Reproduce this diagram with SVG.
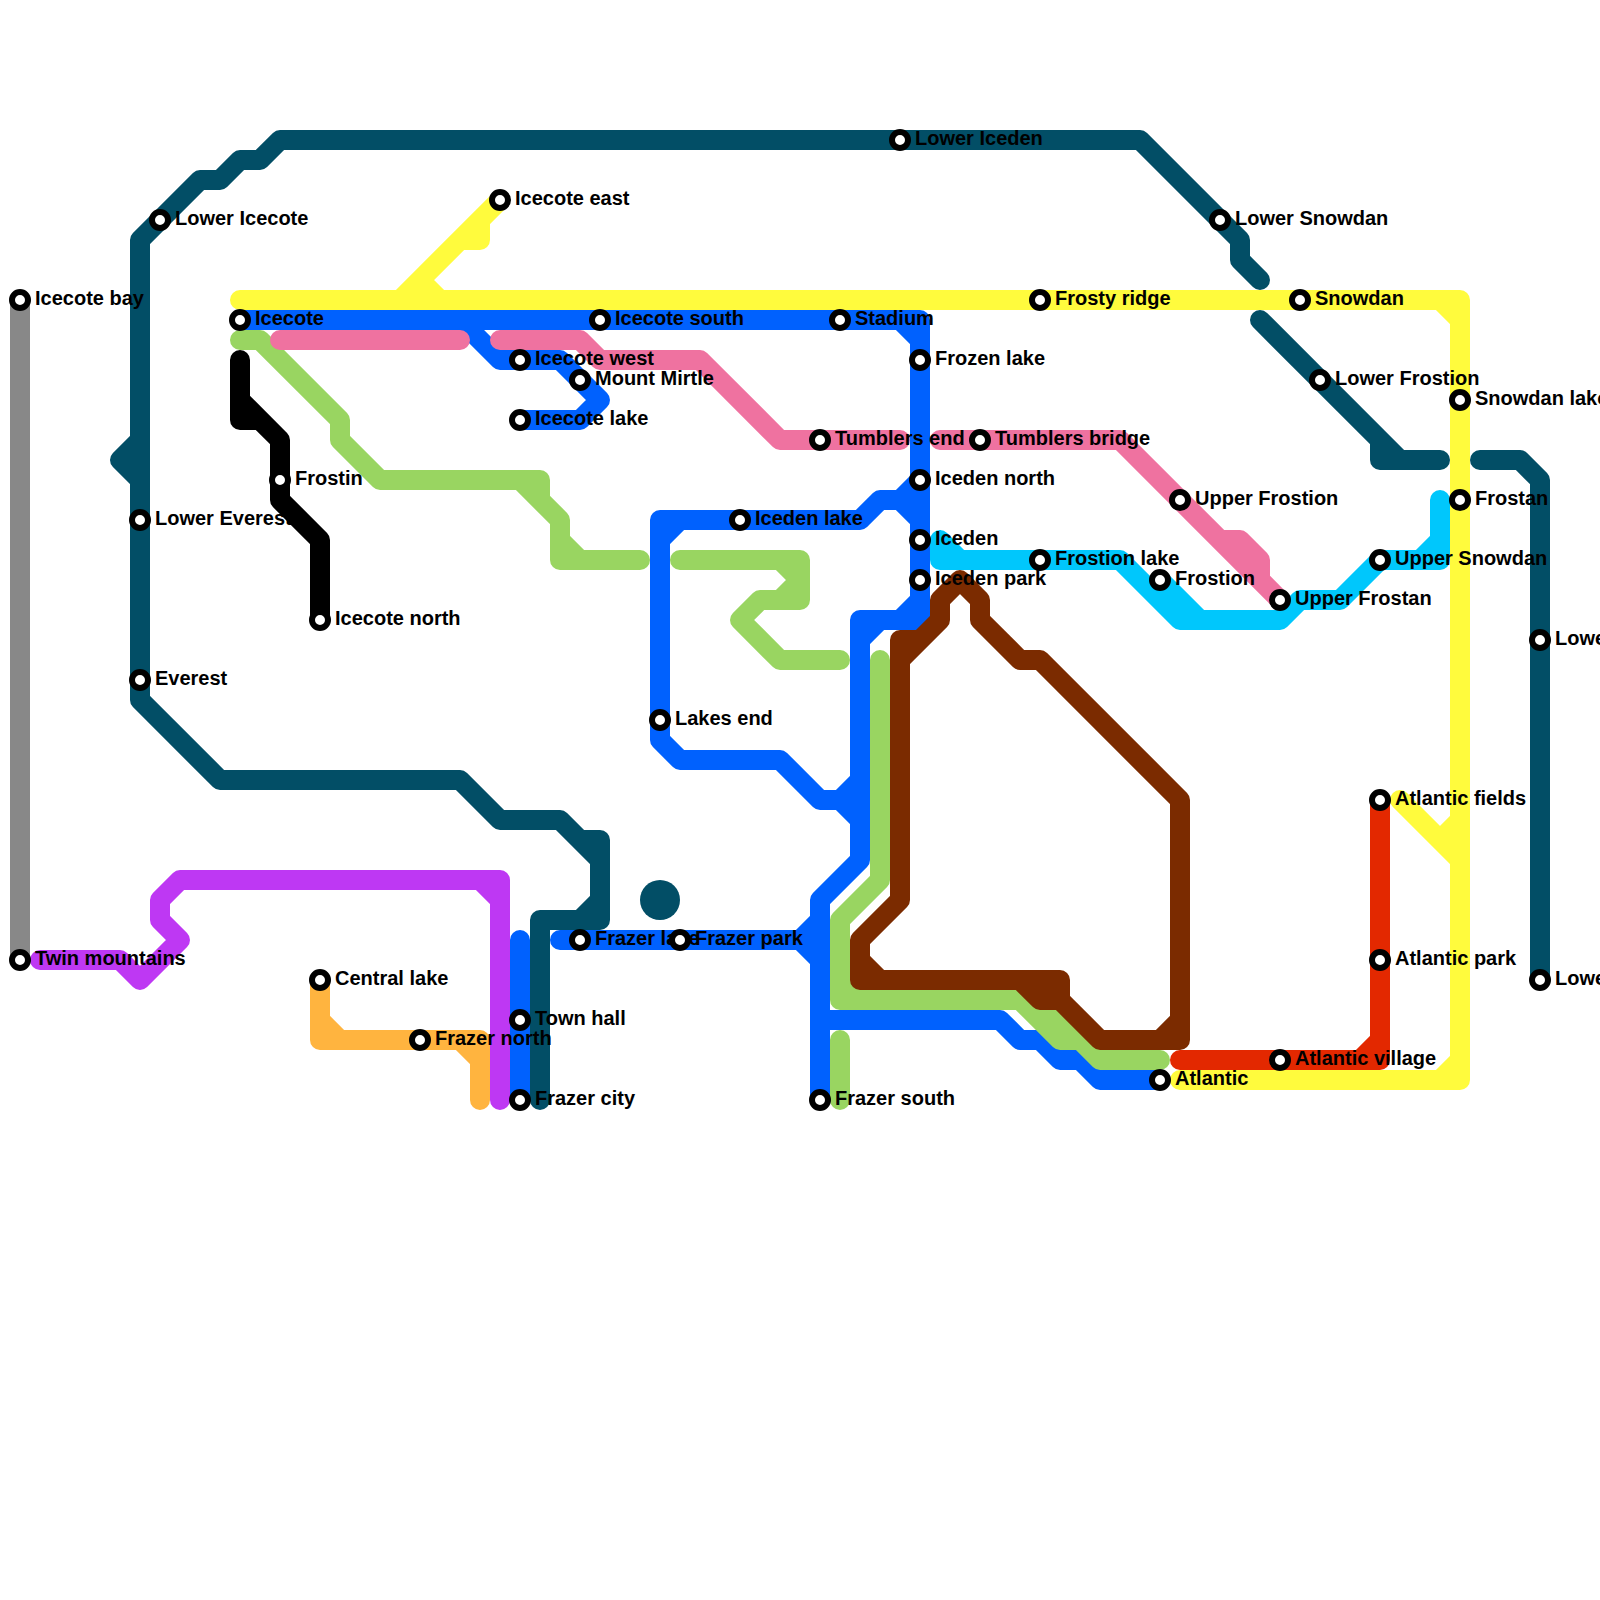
<svg xmlns="http://www.w3.org/2000/svg" width="1600" height="1600" viewBox="0 0 1600 1600">
<style>
.l{fill:none;stroke-width:20;stroke-linecap:round;stroke-linejoin:round}
.teal{stroke:#024e66}.blue{stroke:#0061fe}.green{stroke:#99d561}.pink{stroke:#ef72a0}.yellow{stroke:#fffb3d}.brown{stroke:#7b2b00}.red{stroke:#e32800}.purple{stroke:#be38f3}.orange{stroke:#ffb43f}.gray{stroke:#888}.cyan{stroke:#00c7fc}.black{stroke:#000}
.s circle{fill:#fff;stroke:#000;stroke-width:6}
.s text{font-family:"Liberation Sans",Arial,sans-serif;font-size:20px;font-weight:bold;fill:#000}
</style>
<g id="connectors">
<path class="l gray" d="M20 300V960"/>
<path class="l yellow" d="M240 300H1440L1460 320V1060L1440 1080H1180M1440 300H1460V320M1460 1060V1080H1440M500 200L400 300M480 220V240H460L420 280L440 300M1400 800L1460 860M1440 840L1460 820"/>
<path class="l teal" d="M540 1100V920H580L600 900V860L560 820H500L460 780H220L140 700V240L200 180H220L240 160H260L280 140H1140L1240 240V260L1260 280M580 840H600V920H580M140 440L120 460L140 480M1260 320L1400 460H1440M1380 440V460H1400M1480 460H1520L1540 480V980"/>
<circle cx="660" cy="900" r="20" fill="#024e66"/>
<path class="l blue" d="M240 320H900L920 340V620H860V640M900 320H920V340M920 600L900 620M880 620L860 640V860L820 900V1100M660 520V740L680 760H780L820 800H840L860 780M840 800L860 820M660 540L680 520H860L880 500H900L920 480M660 520H680M900 500L920 520M460 320L500 360H560L600 400L580 420H520M560 940H800L820 920M800 940L820 960M520 940V1100M820 1020H1000L1020 1040H1040L1060 1060H1080L1100 1080H1160"/>
<path class="l green" d="M240 340H260L340 420V440L380 480H540L520 480L560 520V560H640M540 480V500L560 520M560 540L580 560M680 560H780L800 580L780 600H760L740 620L780 660H840M780 560H800V600H780M880 660V880L840 920V1000H1020L1060 1040H1080L1100 1060H1160M840 980L860 1000M1040 1000L1080 1040M840 1040V1100"/>
<path class="l pink" d="M280 340H460M500 340H580L600 360H700L780 440H900M940 440H1120L1280 600M1220 540H1240L1260 560V580L1280 600"/>
<path class="l cyan" d="M940 540L960 560H1120L1180 620H1280L1300 600H1340L1380 560H1440V500M940 540V560H960M1160 580L1200 620M1420 560L1440 540"/>
<path class="l brown" d="M900 640H920L940 620V600L960 580L980 600V620L1020 660H1040L1180 800V1040H1100L1060 1000H1040L1020 980M900 640V900L860 940V980H1060V1000M900 660L940 620M860 960L880 980M1160 1040L1180 1020"/>
<path class="l red" d="M1180 1060H1380V800M1360 1060L1380 1040"/>
<path class="l purple" d="M40 960H120L140 980L180 940L160 920V900L180 880H500V1100M480 880L500 900"/>
<path class="l orange" d="M320 980V1040H480V1100M320 1020L340 1040M460 1040L480 1060"/>
<path class="l black" d="M240 360V420H260L280 440V500L320 540V620M240 400L280 440"/>
</g>
<g id="station-icecote-bay" class="s"><circle cx="20" cy="300" r="8"/><text x="35" y="305">Icecote bay</text></g>
<g id="station-lower-icecote" class="s"><circle cx="160" cy="220" r="8"/><text x="175" y="225">Lower Icecote</text></g>
<g id="station-icecote-east" class="s"><circle cx="500" cy="200" r="8"/><text x="515" y="205">Icecote east</text></g>
<g id="station-icecote" class="s"><circle cx="240" cy="320" r="8"/><text x="255" y="325">Icecote</text></g>
<g id="station-lower-iceden" class="s"><circle cx="900" cy="140" r="8"/><text x="915" y="145">Lower Iceden</text></g>
<g id="station-icecote-south" class="s"><circle cx="600" cy="320" r="8"/><text x="615" y="325">Icecote south</text></g>
<g id="station-stadium" class="s"><circle cx="840" cy="320" r="8"/><text x="855" y="325">Stadium</text></g>
<g id="station-icecote-west" class="s"><circle cx="520" cy="360" r="8"/><text x="535" y="365">Icecote west</text></g>
<g id="station-mount-mirtle" class="s"><circle cx="580" cy="380" r="8"/><text x="595" y="385">Mount Mirtle</text></g>
<g id="station-icecote-lake" class="s"><circle cx="520" cy="420" r="8"/><text x="535" y="425">Icecote lake</text></g>
<g id="station-frozen-lake" class="s"><circle cx="920" cy="360" r="8"/><text x="935" y="365">Frozen lake</text></g>
<g id="station-tumblers-end" class="s"><circle cx="820" cy="440" r="8"/><text x="835" y="445">Tumblers end</text></g>
<g id="station-tumblers-bridge" class="s"><circle cx="980" cy="440" r="8"/><text x="995" y="445">Tumblers bridge</text></g>
<g id="station-iceden-north" class="s"><circle cx="920" cy="480" r="8"/><text x="935" y="485">Iceden north</text></g>
<g id="station-iceden-lake" class="s"><circle cx="740" cy="520" r="8"/><text x="755" y="525">Iceden lake</text></g>
<g id="station-iceden" class="s"><circle cx="920" cy="540" r="8"/><text x="935" y="545">Iceden</text></g>
<g id="station-iceden-park" class="s"><circle cx="920" cy="580" r="8"/><text x="935" y="585">Iceden park</text></g>
<g id="station-frosty-ridge" class="s"><circle cx="1040" cy="300" r="8"/><text x="1055" y="305">Frosty ridge</text></g>
<g id="station-snowdan" class="s"><circle cx="1300" cy="300" r="8"/><text x="1315" y="305">Snowdan</text></g>
<g id="station-lower-snowdan" class="s"><circle cx="1220" cy="220" r="8"/><text x="1235" y="225">Lower Snowdan</text></g>
<g id="station-lower-frostion" class="s"><circle cx="1320" cy="380" r="8"/><text x="1335" y="385">Lower Frostion</text></g>
<g id="station-snowdan-lake" class="s"><circle cx="1460" cy="400" r="8"/><text x="1475" y="405">Snowdan lake</text></g>
<g id="station-upper-frostion" class="s"><circle cx="1180" cy="500" r="8"/><text x="1195" y="505">Upper Frostion</text></g>
<g id="station-frostan" class="s"><circle cx="1460" cy="500" r="8"/><text x="1475" y="505">Frostan</text></g>
<g id="station-frostion-lake" class="s"><circle cx="1040" cy="560" r="8"/><text x="1055" y="565">Frostion lake</text></g>
<g id="station-frostion" class="s"><circle cx="1160" cy="580" r="8"/><text x="1175" y="585">Frostion</text></g>
<g id="station-upper-frostan" class="s"><circle cx="1280" cy="600" r="8"/><text x="1295" y="605">Upper Frostan</text></g>
<g id="station-upper-snowdan" class="s"><circle cx="1380" cy="560" r="8"/><text x="1395" y="565">Upper Snowdan</text></g>
<g id="station-lower-right-1" class="s"><circle cx="1540" cy="640" r="8"/><text x="1555" y="645">Lowe</text></g>
<g id="station-lakes-end" class="s"><circle cx="660" cy="720" r="8"/><text x="675" y="725">Lakes end</text></g>
<g id="station-lower-everest" class="s"><circle cx="140" cy="520" r="8"/><text x="155" y="525">Lower Everest</text></g>
<g id="station-everest" class="s"><circle cx="140" cy="680" r="8"/><text x="155" y="685">Everest</text></g>
<g id="station-frostin" class="s"><circle cx="280" cy="480" r="8"/><text x="295" y="485">Frostin</text></g>
<g id="station-icecote-north" class="s"><circle cx="320" cy="620" r="8"/><text x="335" y="625">Icecote north</text></g>
<g id="station-twin-mountains" class="s"><circle cx="20" cy="960" r="8"/><text x="35" y="965">Twin mountains</text></g>
<g id="station-central-lake" class="s"><circle cx="320" cy="980" r="8"/><text x="335" y="985">Central lake</text></g>
<g id="station-frazer-north" class="s"><circle cx="420" cy="1040" r="8"/><text x="435" y="1045">Frazer north</text></g>
<g id="station-town-hall" class="s"><circle cx="520" cy="1020" r="8"/><text x="535" y="1025">Town hall</text></g>
<g id="station-frazer-city" class="s"><circle cx="520" cy="1100" r="8"/><text x="535" y="1105">Frazer city</text></g>
<g id="station-frazer-lake" class="s"><circle cx="580" cy="940" r="8"/><text x="595" y="945">Frazer lake</text></g>
<g id="station-frazer-park" class="s"><circle cx="680" cy="940" r="8"/><text x="695" y="945">Frazer park</text></g>
<g id="station-frazer-south" class="s"><circle cx="820" cy="1100" r="8"/><text x="835" y="1105">Frazer south</text></g>
<g id="station-atlantic" class="s"><circle cx="1160" cy="1080" r="8"/><text x="1175" y="1085">Atlantic</text></g>
<g id="station-atlantic-village" class="s"><circle cx="1280" cy="1060" r="8"/><text x="1295" y="1065">Atlantic village</text></g>
<g id="station-atlantic-park" class="s"><circle cx="1380" cy="960" r="8"/><text x="1395" y="965">Atlantic park</text></g>
<g id="station-atlantic-fields" class="s"><circle cx="1380" cy="800" r="8"/><text x="1395" y="805">Atlantic fields</text></g>
<g id="station-lower-right-2" class="s"><circle cx="1540" cy="980" r="8"/><text x="1555" y="985">Lowe</text></g>
</svg>
